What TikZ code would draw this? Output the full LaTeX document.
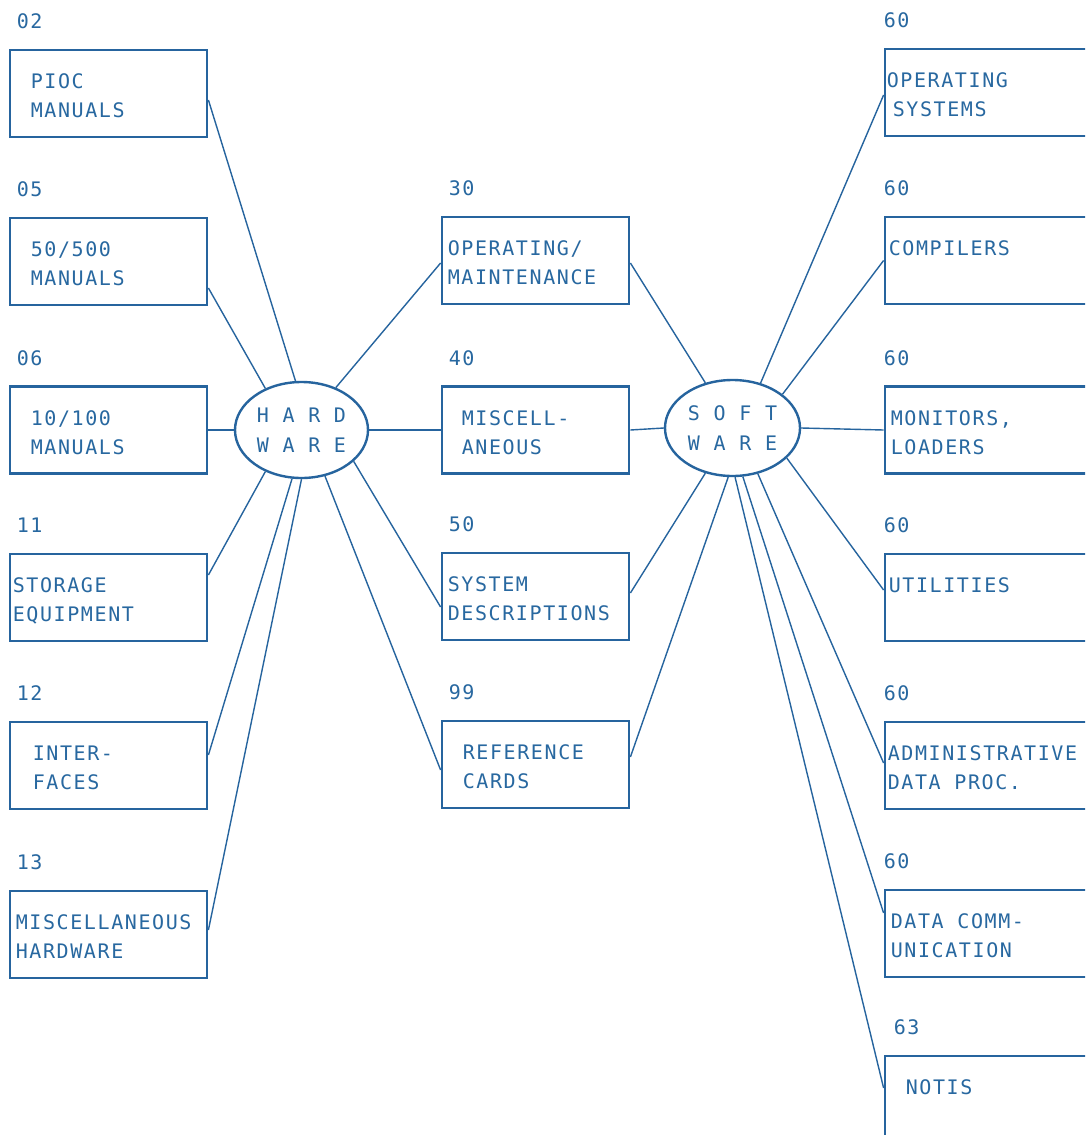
\documentclass[tikz,border=0pt]{standalone}
\usepackage{fontspec}
\newfontfamily\typew[LetterSpace=8]{DejaVu Sans Mono}
\usetikzlibrary{shapes.geometric,calc}
\definecolor{ink}{RGB}{38,100,158}
\definecolor{inktext}{RGB}{40,104,160}
\begin{document}
\begin{tikzpicture}[x=1pt,y=-1pt,
  basebox/.style={draw=ink, line width=2.8pt, minimum height=87pt, inner sep=0pt},
  lbox/.style={basebox, minimum width=197pt},
  mbox/.style={basebox, minimum width=187pt},
  rbox/.style={basebox, minimum width=215pt},
  hub/.style={ellipse, draw=ink, line width=2.4pt, minimum width=133pt, minimum height=96pt, inner sep=0pt,
    font=\typew\fontsize{20}{30}\selectfont, text=inktext, align=center},
  txt/.style={anchor=north west, align=left, inner sep=0pt, text=inktext,
    font=\typew\fontsize{20}{29}\selectfont},
  num/.style={anchor=base west, inner sep=0pt, text=inktext,
    font=\typew\fontsize{20}{29}\selectfont},
  conn/.style={draw=ink, line width=1.4pt}]
\path[use as bounding box] (0,0) rectangle (1085,1135);
\clip (0,0) rectangle (1085,1135);
\fill[white] (0,0) rectangle (1085,1135);

% hubs
\node[hub] (hw) at (301.5,430) {\raisebox{-4pt}{H A R D}\\\raisebox{-4pt}{W A R E}};
\node[hub, minimum width=135pt] (sw) at (732.5,428) {\raisebox{-4pt}{S O F T}\\\raisebox{-4pt}{W A R E}};

% left column
\node[lbox] (pioc) at (108.5,93.5) {};
\node[lbox] (m50)  at (108.5,261.5) {};
\node[lbox] (m10)  at (108.5,430) {};
\node[lbox] (stor) at (108.5,597.5) {};
\node[lbox] (intf) at (108.5,765.5) {};
\node[lbox] (mhw)  at (108.5,934.5) {};

\node[txt] (pioc-t) at ([xshift=22pt,yshift=-25pt]pioc.north west) {PIOC\\MANUALS};
\node[txt] (m50-t)  at ([xshift=22pt,yshift=-25pt]m50.north west) {50/500\\MANUALS};
\node[txt] (m10-t)  at ([xshift=22pt,yshift=-25pt]m10.north west) {10/100\\MANUALS};
\node[txt] (stor-t) at ([xshift=4pt,yshift=-25pt]stor.north west) {STORAGE\\EQUIPMENT};
\node[txt] (intf-t) at ([xshift=24pt,yshift=-25pt]intf.north west) {INTER-\\FACES};
\node[txt] (mhw-t)  at ([xshift=7pt,yshift=-25pt]mhw.north west) {MISCELLANEOUS\\HARDWARE};

\node[num] (pioc-n) at ([xshift=8pt,yshift=20pt]pioc.north west) {02};
\node[num] (m50-n)  at ([xshift=8pt,yshift=20pt]m50.north west) {05};
\node[num] (m10-n)  at ([xshift=8pt,yshift=20pt]m10.north west) {06};
\node[num] (stor-n) at ([xshift=8pt,yshift=20pt]stor.north west) {11};
\node[num] (intf-n) at ([xshift=8pt,yshift=20pt]intf.north west) {12};
\node[num] (mhw-n)  at ([xshift=8pt,yshift=20pt]mhw.north west) {13};

% middle column
\node[mbox] (opm)  at (535.5,260.5) {};
\node[mbox] (misc) at (535.5,430) {};
\node[mbox] (sysd) at (535.5,596.5) {};
\node[mbox] (refc) at (535.5,764.5) {};

\node[txt] (opm-t)  at ([xshift=7pt,yshift=-25pt]opm.north west) {OPERATING/\\MAINTENANCE};
\node[txt] (misc-t) at ([xshift=21pt,yshift=-25pt]misc.north west) {MISCELL-\\ANEOUS};
\node[txt] (sysd-t) at ([xshift=7pt,yshift=-25pt]sysd.north west) {SYSTEM\\DESCRIPTIONS};
\node[txt] (refc-t) at ([xshift=22pt,yshift=-25pt]refc.north west) {REFERENCE\\CARDS};

\node[num] (opm-n)  at ([xshift=8pt,yshift=20pt]opm.north west) {30};
\node[num] (misc-n) at ([xshift=8pt,yshift=20pt]misc.north west) {40};
\node[num] (sysd-n) at ([xshift=8pt,yshift=20pt]sysd.north west) {50};
\node[num] (refc-n) at ([xshift=8pt,yshift=20pt]refc.north west) {99};

% right column
\node[rbox] (ops)  at (992.5,92.5) {};
\node[rbox] (comp) at (992.5,260.5) {};
\node[rbox] (mon)  at (992.5,430) {};
\node[rbox] (util) at (992.5,597.5) {};
\node[rbox] (adm)  at (992.5,765.5) {};
\node[rbox] (dcom) at (992.5,933.5) {};
\node[rbox] (notis) at (992.5,1099.5) {};

\node[txt] (ops-t)  at ([xshift=3pt,yshift=-25pt]ops.north west) {OPERATING\\\hspace*{6pt}SYSTEMS};
\node[txt] (comp-t) at ([xshift=5pt,yshift=-25pt]comp.north west) {COMPILERS};
\node[txt] (mon-t)  at ([xshift=7pt,yshift=-25pt]mon.north west) {MONITORS,\\LOADERS};
\node[txt] (util-t) at ([xshift=5pt,yshift=-25pt]util.north west) {UTILITIES};
\node[txt] (adm-t)  at ([xshift=4pt,yshift=-25pt]adm.north west) {ADMINISTRATIVE\\DATA PROC.};
\node[txt] (dcom-t) at ([xshift=7pt,yshift=-25pt]dcom.north west) {DATA COMM-\\UNICATION};
\node[txt] (notis-t) at ([xshift=22pt,yshift=-25pt]notis.north west) {NOTIS};

\node[num] (ops-n)  at ([xshift=0pt,yshift=20pt]ops.north west) {60};
\node[num] (comp-n) at ([xshift=0pt,yshift=20pt]comp.north west) {60};
\node[num] (mon-n)  at ([xshift=0pt,yshift=20pt]mon.north west) {60};
\node[num] (util-n) at ([xshift=0pt,yshift=20pt]util.north west) {60};
\node[num] (adm-n)  at ([xshift=0pt,yshift=20pt]adm.north west) {60};
\node[num] (dcom-n) at ([xshift=0pt,yshift=20pt]dcom.north west) {60};
\node[num] (notis-n) at ([xshift=10pt,yshift=20pt]notis.north west) {63};

% connectors: hardware
\draw[conn] ([yshift=-6.5pt]pioc.east) -- (hw.97.7);
\draw[conn] ([yshift=-26.5pt]m50.east) -- (hw.131.7);
\draw[conn] (m10.east) -- (hw.west);
\draw[conn] ([yshift=22.5pt]stor.east) -- (hw.229);
\draw[conn] ([yshift=10.5pt]intf.east) -- (hw.259);
\draw[conn] ([yshift=4.5pt]mhw.east) -- (hw.270);
\draw[conn] (hw.51.4) -- ([yshift=-2.5pt]opm.west);
\draw[conn] (hw.east) -- (misc.west);
\draw[conn] (hw.329) -- ([yshift=-10.5pt]sysd.west);
\draw[conn] (hw.297) -- ([yshift=-5.5pt]refc.west);

% connectors: software
\draw[conn] ([yshift=-2.5pt]opm.east) -- (sw.121.4);
\draw[conn] (misc.east) -- (sw.west);
\draw[conn] ([yshift=3.5pt]sysd.east) -- (sw.239);
\draw[conn] ([yshift=7.5pt]refc.east) -- (sw.265);
\draw[conn] (sw.58.6) -- ([yshift=-2.5pt]ops.west);
\draw[conn] (sw.34) -- (comp.west);
\draw[conn] (sw.east) -- (mon.west);
\draw[conn] (sw.331) -- ([yshift=7.5pt]util.west);
\draw[conn] (sw.299) -- ([yshift=2.5pt]adm.west);
\draw[conn] (sw.282) -- ([yshift=20.5pt]dcom.west);
\draw[conn] (sw.273) -- ([yshift=11.5pt]notis.west);
\end{tikzpicture}
\end{document}
